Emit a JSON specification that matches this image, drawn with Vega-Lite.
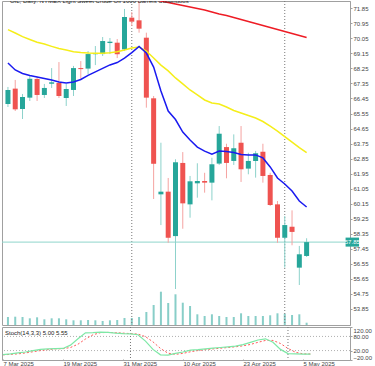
{
  "$schema": "https://vega.github.io/schema/vega-lite/v6.json",
  "padding": 0,
  "spacing": 0,
  "background": "white",
  "config": {
    "view": {"stroke": "#a0a0a0", "strokeWidth": 1},
    "font": "Liberation Sans",
    "axis": {"labelFont": "Liberation Sans", "labelFontSize": 6, "labelColor": "#444", "domainColor": "#a0a0a0", "tickColor": "#a0a0a0", "tickSize": 2, "grid": false, "title": null, "labelPadding": 1, "labelOverlap": false}
  },
  "datasets": {
    "bars": [
      {"k": -16, "date": "2025-03-07", "open": 66.12, "high": 67.14, "low": 65.94, "close": 66.96, "volume": 80000, "ma_fast": 68.57, "ma_mid": 70.57, "stoch_k": 3, "stoch_d": 2},
      {"k": -15, "date": "2025-03-10", "open": 67.04, "high": 67.56, "low": 65.70, "close": 65.80, "volume": 83000, "ma_fast": 68.16, "ma_mid": 70.37, "stoch_k": 6, "stoch_d": 4},
      {"k": -14, "date": "2025-03-11", "open": 65.82, "high": 66.72, "low": 65.22, "close": 66.54, "volume": 80000, "ma_fast": 67.95, "ma_mid": 70.15, "stoch_k": 10, "stoch_d": 6},
      {"k": -13, "date": "2025-03-12", "open": 66.50, "high": 67.80, "low": 66.30, "close": 67.63, "volume": 67000, "ma_fast": 67.83, "ma_mid": 69.98, "stoch_k": 14, "stoch_d": 10},
      {"k": -12, "date": "2025-03-13", "open": 67.62, "high": 67.74, "low": 66.30, "close": 66.66, "volume": 77000, "ma_fast": 67.74, "ma_mid": 69.82, "stoch_k": 20, "stoch_d": 15},
      {"k": -11, "date": "2025-03-14", "open": 66.66, "high": 67.32, "low": 66.48, "close": 67.08, "volume": 57000, "ma_fast": 67.65, "ma_mid": 69.71, "stoch_k": 25, "stoch_d": 20},
      {"k": -10, "date": "2025-03-17", "open": 67.33, "high": 68.27, "low": 67.08, "close": 67.42, "volume": 67000, "ma_fast": 67.56, "ma_mid": 69.57, "stoch_k": 27, "stoch_d": 24},
      {"k": -9, "date": "2025-03-18", "open": 67.38, "high": 68.63, "low": 66.48, "close": 66.60, "volume": 67000, "ma_fast": 67.44, "ma_mid": 69.44, "stoch_k": 28, "stoch_d": 27},
      {"k": -8, "date": "2025-03-19", "open": 66.48, "high": 67.32, "low": 66.00, "close": 67.02, "volume": 57000, "ma_fast": 67.38, "ma_mid": 69.35, "stoch_k": 29, "stoch_d": 28},
      {"k": -7, "date": "2025-03-20", "open": 66.96, "high": 68.40, "low": 66.60, "close": 68.27, "volume": 47000, "ma_fast": 67.44, "ma_mid": 69.25, "stoch_k": 43, "stoch_d": 33},
      {"k": -6, "date": "2025-03-21", "open": 68.27, "high": 68.69, "low": 67.62, "close": 68.21, "volume": 47000, "ma_fast": 67.59, "ma_mid": 69.20, "stoch_k": 70, "stoch_d": 47},
      {"k": -5, "date": "2025-03-24", "open": 68.24, "high": 69.29, "low": 67.89, "close": 69.11, "volume": 50000, "ma_fast": 67.83, "ma_mid": 69.17, "stoch_k": 95, "stoch_d": 69},
      {"k": -4, "date": "2025-03-25", "open": 69.10, "high": 69.59, "low": 68.45, "close": 69.16, "volume": 47000, "ma_fast": 68.04, "ma_mid": 69.16, "stoch_k": 96, "stoch_d": 87},
      {"k": -3, "date": "2025-03-26", "open": 69.11, "high": 70.13, "low": 68.99, "close": 69.89, "volume": 40000, "ma_fast": 68.25, "ma_mid": 69.16, "stoch_k": 98, "stoch_d": 96},
      {"k": -2, "date": "2025-03-27", "open": 69.77, "high": 70.07, "low": 69.11, "close": 69.85, "volume": 47000, "ma_fast": 68.46, "ma_mid": 69.19, "stoch_k": 97, "stoch_d": 97},
      {"k": -1, "date": "2025-03-28", "open": 69.79, "high": 70.01, "low": 68.87, "close": 69.10, "volume": 50000, "ma_fast": 68.60, "ma_mid": 69.25, "stoch_k": 94, "stoch_d": 96},
      {"k": 0, "date": "2025-03-31", "open": 69.39, "high": 71.81, "low": 69.29, "close": 71.33, "volume": 70000, "ma_fast": 68.87, "ma_mid": 69.35, "ma_slow": 73.00, "stoch_k": 92, "stoch_d": 94},
      {"k": 1, "date": "2025-04-01", "open": 71.29, "high": 71.63, "low": 70.79, "close": 71.05, "volume": 70000, "ma_fast": 69.20, "ma_mid": 69.47, "ma_slow": 72.83, "stoch_k": 91, "stoch_d": 92},
      {"k": 2, "date": "2025-04-02", "open": 71.13, "high": 72.40, "low": 70.39, "close": 70.63, "volume": 80000, "ma_fast": 69.56, "ma_mid": 69.53, "ma_slow": 72.68, "stoch_k": 87, "stoch_d": 90},
      {"k": 3, "date": "2025-04-03", "open": 70.09, "high": 70.39, "low": 65.90, "close": 66.50, "volume": 130000, "ma_fast": 69.17, "ma_mid": 69.29, "ma_slow": 72.53, "stoch_k": 60, "stoch_d": 79},
      {"k": 4, "date": "2025-04-04", "open": 66.46, "high": 66.60, "low": 60.43, "close": 62.54, "volume": 200000, "ma_fast": 68.33, "ma_mid": 68.87, "ma_slow": 72.41, "stoch_k": 25, "stoch_d": 57},
      {"k": 5, "date": "2025-04-07", "open": 60.71, "high": 63.80, "low": 58.87, "close": 60.87, "volume": 333000, "ma_fast": 66.90, "ma_mid": 68.45, "ma_slow": 72.29, "stoch_k": 2, "stoch_d": 29},
      {"k": 6, "date": "2025-04-08", "open": 60.87, "high": 61.69, "low": 57.81, "close": 58.11, "volume": 220000, "ma_fast": 65.70, "ma_mid": 68.10, "ma_slow": 72.20, "stoch_k": 1, "stoch_d": 9},
      {"k": 7, "date": "2025-04-09", "open": 58.21, "high": 62.81, "low": 55.04, "close": 62.63, "volume": 307000, "ma_fast": 65.19, "ma_mid": 67.68, "ma_slow": 72.11, "stoch_k": 8, "stoch_d": 4},
      {"k": 8, "date": "2025-04-10", "open": 62.59, "high": 63.24, "low": 58.65, "close": 60.17, "volume": 223000, "ma_fast": 64.44, "ma_mid": 67.32, "ma_slow": 72.02, "stoch_k": 14, "stoch_d": 8},
      {"k": 9, "date": "2025-04-11", "open": 60.11, "high": 61.81, "low": 59.31, "close": 61.49, "volume": 190000, "ma_fast": 63.96, "ma_mid": 66.96, "ma_slow": 71.93, "stoch_k": 22, "stoch_d": 15},
      {"k": 10, "date": "2025-04-14", "open": 61.37, "high": 62.57, "low": 60.51, "close": 61.51, "volume": 107000, "ma_fast": 63.54, "ma_mid": 66.66, "ma_slow": 71.84, "stoch_k": 24, "stoch_d": 20},
      {"k": 11, "date": "2025-04-15", "open": 61.51, "high": 62.00, "low": 60.81, "close": 61.41, "volume": 90000, "ma_fast": 63.30, "ma_mid": 66.36, "ma_slow": 71.75, "stoch_k": 27, "stoch_d": 24},
      {"k": 12, "date": "2025-04-16", "open": 61.41, "high": 62.90, "low": 60.35, "close": 62.51, "volume": 107000, "ma_fast": 63.12, "ma_mid": 66.18, "ma_slow": 71.63, "stoch_k": 30, "stoch_d": 27},
      {"k": 13, "date": "2025-04-17", "open": 62.55, "high": 64.80, "low": 62.47, "close": 64.34, "volume": 90000, "ma_fast": 63.30, "ma_mid": 66.12, "ma_slow": 71.51, "stoch_k": 33, "stoch_d": 30},
      {"k": 14, "date": "2025-04-21", "open": 63.54, "high": 63.74, "low": 61.67, "close": 62.59, "volume": 80000, "ma_fast": 63.27, "ma_mid": 65.94, "ma_slow": 71.42, "stoch_k": 36, "stoch_d": 33},
      {"k": 15, "date": "2025-04-22", "open": 62.71, "high": 64.30, "low": 62.47, "close": 63.47, "volume": 80000, "ma_fast": 63.21, "ma_mid": 65.73, "ma_slow": 71.30, "stoch_k": 39, "stoch_d": 36},
      {"k": 16, "date": "2025-04-23", "open": 63.80, "high": 64.80, "low": 61.45, "close": 62.21, "volume": 117000, "ma_fast": 63.10, "ma_mid": 65.58, "ma_slow": 71.18, "stoch_k": 45, "stoch_d": 40},
      {"k": 17, "date": "2025-04-24", "open": 62.25, "high": 63.20, "low": 61.91, "close": 62.71, "volume": 90000, "ma_fast": 63.07, "ma_mid": 65.43, "ma_slow": 71.06, "stoch_k": 55, "stoch_d": 46},
      {"k": 18, "date": "2025-04-25", "open": 62.71, "high": 63.31, "low": 61.71, "close": 63.17, "volume": 90000, "ma_fast": 63.07, "ma_mid": 65.28, "ma_slow": 70.94, "stoch_k": 65, "stoch_d": 55},
      {"k": 19, "date": "2025-04-28", "open": 63.26, "high": 63.74, "low": 61.41, "close": 61.81, "volume": 90000, "ma_fast": 62.89, "ma_mid": 65.07, "ma_slow": 70.82, "stoch_k": 70, "stoch_d": 63},
      {"k": 20, "date": "2025-04-29", "open": 61.87, "high": 62.00, "low": 60.01, "close": 60.07, "volume": 97000, "ma_fast": 62.35, "ma_mid": 64.80, "ma_slow": 70.70, "stoch_k": 55, "stoch_d": 63},
      {"k": 21, "date": "2025-04-30", "open": 60.11, "high": 60.31, "low": 57.81, "close": 58.11, "volume": 117000, "ma_fast": 61.69, "ma_mid": 64.50, "ma_slow": 70.58, "stoch_k": 25, "stoch_d": 50},
      {"k": 22, "date": "2025-05-01", "open": 58.11, "high": 59.41, "low": 56.32, "close": 58.87, "volume": 113000, "ma_fast": 61.33, "ma_mid": 64.17, "ma_slow": 70.46, "stoch_k": 7, "stoch_d": 29},
      {"k": 23, "date": "2025-05-02", "open": 58.77, "high": 59.75, "low": 57.66, "close": 58.46, "volume": 100000, "ma_fast": 60.91, "ma_mid": 63.84, "ma_slow": 70.34, "stoch_k": 6, "stoch_d": 13},
      {"k": 24, "date": "2025-05-05", "open": 56.32, "high": 57.62, "low": 55.28, "close": 57.12, "volume": 107000, "ma_fast": 60.31, "ma_mid": 63.51, "ma_slow": 70.22, "stoch_k": 5, "stoch_d": 6},
      {"k": 25, "date": "2025-05-06", "open": 57.02, "high": 58.08, "low": 56.96, "close": 57.85, "volume": 23000, "ma_fast": 59.95, "ma_mid": 63.21, "ma_slow": 70.10, "stoch_k": 5.00, "stoch_d": 5.55}
    ],
    "separators": [{"k": 1}, {"k": 22}],
    "levels": [{"level": 80}, {"level": 20}],
    "last": [{"price": 57.85, "k1": 30.35, "k2": 32.2, "kt": 31.27, "p1": 57.58, "p2": 58.12, "label": "57.85"}],
    "title": [{"k": -15.73, "p": 72.17, "label": "OIL, Daily:  NYMEX Light Sweet Crude Oil 1000 Barrels Continuous"}],
    "stochTitle": [{"k": -15.73, "v": 96, "label": "Stoch(14,3,3) 5.00 5.55"}]
  },
  "vconcat": [
    {
      "width": 348,
      "height": 324,
      "layer": [
        {
          "data": {"name": "bars"},
          "mark": {"type": "bar", "size": 2, "color": "#26a69a", "opacity": 0.55},
          "encoding": {
            "x": {"field": "k", "type": "quantitative", "scale": {"domain": [-16.13, 30.27], "nice": false, "zero": false}, "axis": null},
            "y": {"field": "volume", "type": "quantitative", "scale": {"domain": [0, 3240000], "nice": false}, "axis": null}
          }
        },
        {
          "layer": [
            {
              "data": {"name": "separators"},
              "mark": {"type": "rule", "color": "#777", "strokeDash": [1, 2], "strokeWidth": 1},
              "encoding": {"x": {"field": "k", "type": "quantitative", "axis": null}}
            },
            {
              "data": {"name": "last"},
              "mark": {"type": "rule", "color": "#8fd6cc", "strokeWidth": 1},
              "encoding": {"y": {"field": "price", "type": "quantitative"}}
            },
            {
              "data": {"name": "bars"},
              "mark": {"type": "rule", "strokeWidth": 1, "clip": true},
              "encoding": {
                "x": {"field": "k", "type": "quantitative", "axis": null},
                "y": {"field": "low", "type": "quantitative", "scale": {"domain": [52.886, 72.287], "nice": false, "zero": false},
                  "axis": {"orient": "right", "values": [71.85, 70.95, 70.05, 69.15, 68.25, 67.35, 66.45, 65.55, 64.65, 63.75, 62.85, 61.95, 61.05, 60.15, 59.25, 58.35, 57.45, 56.55, 55.65, 54.75, 53.85], "tickCount": 40, "format": ".2f", "labelFlush": false, "labelOverlap": false}},
                "y2": {"field": "high"},
                "color": {"condition": {"test": "datum.close >= datum.open", "value": "#8dd2cb"}, "value": "#f5a3a1"}
              }
            },
            {
              "data": {"name": "bars"},
              "mark": {"type": "bar", "size": 5, "clip": true},
              "encoding": {
                "x": {"field": "k", "type": "quantitative", "axis": null},
                "y": {"field": "open", "type": "quantitative"},
                "y2": {"field": "close"},
                "color": {"condition": {"test": "datum.close >= datum.open", "value": "#26a69a"}, "value": "#ef5350"}
              }
            },
            {
              "data": {"name": "bars"},
              "transform": [{"filter": "isValid(datum.ma_slow)"}],
              "mark": {"type": "line", "color": "#ee1c25", "strokeWidth": 1.5, "clip": true},
              "encoding": {
                "x": {"field": "k", "type": "quantitative", "axis": null},
                "y": {"field": "ma_slow", "type": "quantitative"}
              }
            },
            {
              "data": {"name": "bars"},
              "mark": {"type": "line", "color": "#f5ee1a", "strokeWidth": 1.5, "clip": true},
              "encoding": {
                "x": {"field": "k", "type": "quantitative", "axis": null},
                "y": {"field": "ma_mid", "type": "quantitative"}
              }
            },
            {
              "data": {"name": "bars"},
              "mark": {"type": "line", "color": "#1a1af0", "strokeWidth": 1.5, "clip": true},
              "encoding": {
                "x": {"field": "k", "type": "quantitative", "axis": null},
                "y": {"field": "ma_fast", "type": "quantitative"}
              }
            },
            {
              "data": {"name": "title"},
              "mark": {"type": "text", "align": "left", "baseline": "alphabetic", "fontSize": 6, "color": "#222", "clip": true},
              "encoding": {
                "x": {"field": "k", "type": "quantitative", "axis": null},
                "y": {"field": "p", "type": "quantitative"},
                "text": {"field": "label"}
              }
            },
            {
              "data": {"name": "last"},
              "mark": {"type": "rect", "color": "#26a69a"},
              "encoding": {
                "x": {"field": "k1", "type": "quantitative", "axis": null},
                "x2": {"field": "k2"},
                "y": {"field": "p1", "type": "quantitative"},
                "y2": {"field": "p2"}
              }
            },
            {
              "data": {"name": "last"},
              "mark": {"type": "text", "fontSize": 6, "color": "white", "baseline": "middle", "align": "center"},
              "encoding": {
                "x": {"field": "kt", "type": "quantitative", "axis": null},
                "y": {"field": "price", "type": "quantitative"},
                "text": {"field": "label"}
              }
            }
          ]
        }
      ],
      "resolve": {"scale": {"y": "independent"}}
    },
    {
      "width": 348,
      "height": 33,
      "layer": [
        {
          "data": {"name": "levels"},
          "mark": {"type": "rule", "color": "#b0b0b0", "strokeDash": [1, 2], "strokeWidth": 1},
          "encoding": {
            "y": {"field": "level", "type": "quantitative", "scale": {"domain": [-20, 120], "nice": false, "zero": false},
              "axis": {"orient": "right", "values": [120, 80, 20, -20], "tickCount": 10, "format": ".2f", "labelFlush": true, "labelOverlap": false}}
          }
        },
        {
          "data": {"name": "separators"},
          "mark": {"type": "rule", "color": "#777", "strokeDash": [1, 2], "strokeWidth": 1},
          "encoding": {"x": {"field": "k", "type": "quantitative"}}
        },
        {
          "data": {"name": "bars"},
          "mark": {"type": "line", "color": "#ff5a5a", "strokeDash": [2, 2], "strokeWidth": 1},
          "encoding": {
            "x": {"field": "k", "type": "quantitative"},
            "y": {"field": "stoch_d", "type": "quantitative"}
          }
        },
        {
          "data": {"name": "bars"},
          "mark": {"type": "line", "color": "#7ee8a6", "strokeWidth": 1.2},
          "encoding": {
            "x": {"field": "k", "type": "quantitative",
              "scale": {"domain": [-16.13, 30.27], "nice": false, "zero": false},
              "axis": {"values": [-16, -8, 0, 8, 16, 24], "tickCount": 10, "labelAlign": "left", "labelFlush": false, "labelOverlap": false, "labelPadding": 0, "tickSize": 1, "offset": -1, "domain": false,
                "labelExpr": "datum.value == -16 ? '7 Mar 2025' : datum.value == -8 ? '19 Mar 2025' : datum.value == 0 ? '31 Mar 2025' : datum.value == 8 ? '10 Apr 2025' : datum.value == 16 ? '23 Apr 2025' : '5 May 2025'"}},
            "y": {"field": "stoch_k", "type": "quantitative"}
          }
        },
        {
          "data": {"name": "stochTitle"},
          "mark": {"type": "text", "align": "left", "baseline": "middle", "fontSize": 6, "color": "#222"},
          "encoding": {
            "x": {"field": "k", "type": "quantitative"},
            "y": {"field": "v", "type": "quantitative"},
            "text": {"field": "label"}
          }
        }
      ]
    }
  ]
}
